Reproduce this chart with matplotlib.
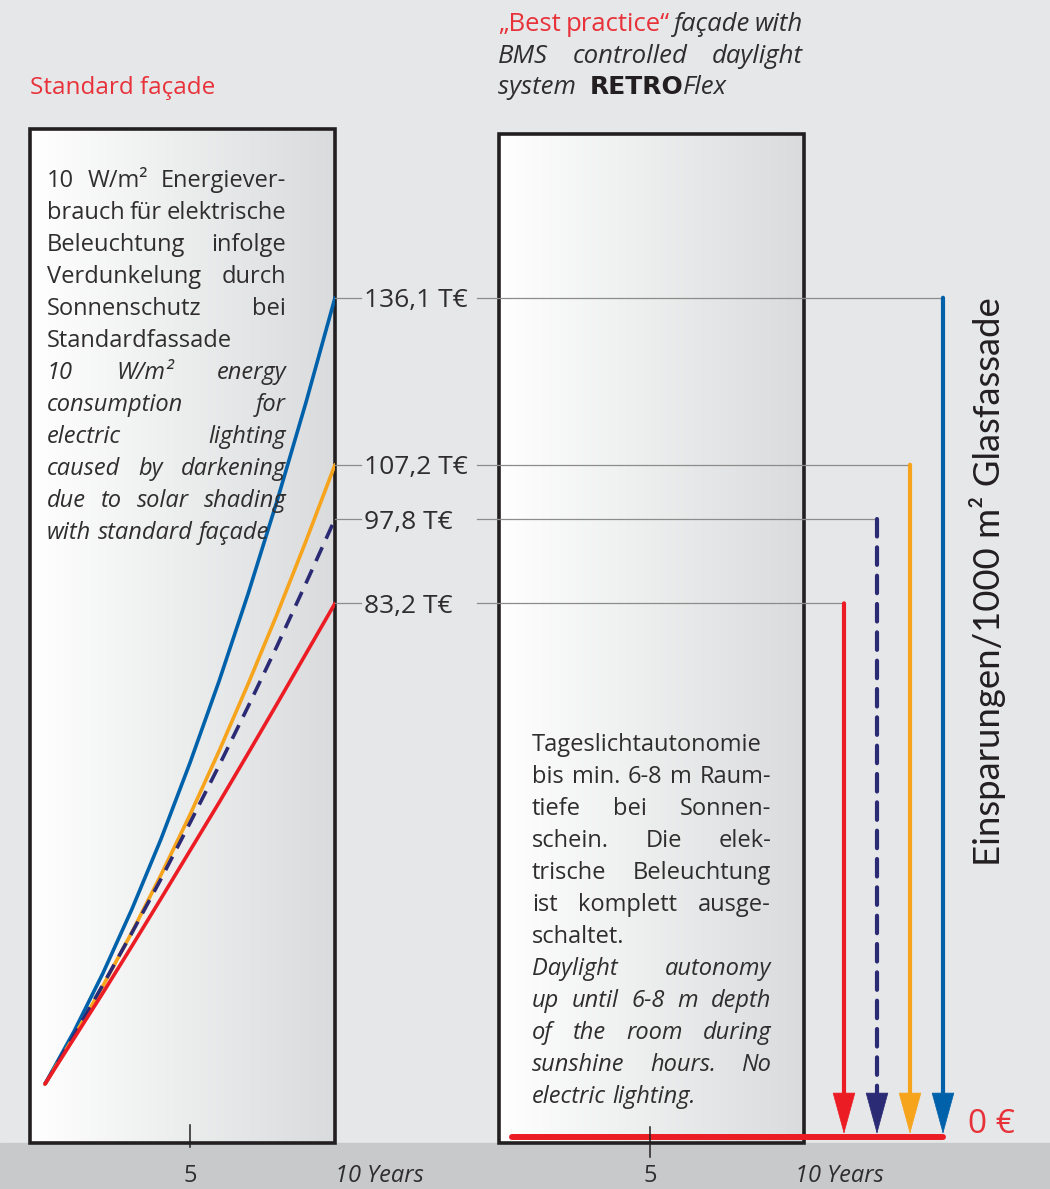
import numpy as np
import matplotlib
matplotlib.use("Agg")
import matplotlib.pyplot as plt
import matplotlib.transforms as mtransforms
from matplotlib.patches import Rectangle
from matplotlib.colors import LinearSegmentedColormap

plt.rcParams['font.family'] = ['Open Sans', 'DejaVu Sans']

# kumulierte Einsparung in T€ über 10 Jahre
YEARS = [0, 1, 2, 3, 4, 5, 6, 7, 8, 9, 10]
BLUE = [0, 9.1, 19.2, 30.3, 42.4, 55.6, 69.7, 84.8, 100.9, 118.0, 136.1]
ORANGE = [0, 8.2, 17.0, 26.3, 36.2, 46.6, 57.6, 69.2, 81.3, 94.0, 107.2]
NAVY = [0, 8.4, 17.2, 26.2, 35.5, 45.2, 55.1, 65.3, 75.8, 86.7, 97.8]
RED = [0, 7.9, 15.8, 23.9, 32.1, 40.4, 48.7, 57.2, 65.8, 74.5, 83.2]
XTICKS = [5, 10]
XTICK_LABELS = ['5', '10 Years']

SERIES = [BLUE, ORANGE, NAVY, RED]
COLORS = ['#0061ab', '#f7a41d', '#2b2a74', '#ec1c24']
DASHES = ['-', '-', (0, (4.2, 2.6)), '-']

TXT = '#2f2d2e'
ROT = '#e8323a'
LEAD = 32

DE_LEFT = ["10 W/m² Energiever-", "brauch für elektrische", "Beleuchtung infolge",
           "Verdunkelung durch", "Sonnenschutz bei", "Standardfassade"]
EN_LEFT = ["10 W/m² energy", "consumption for", "electric lighting",
           "caused by darkening", "due to solar shading", "with standard façade"]
DE_RIGHT = ["Tageslichtautonomie", "bis min. 6-8 m Raum-", "tiefe bei Sonnen-",
            "schein. Die elek-", "trische Beleuchtung", "ist komplett ausge-", "schaltet."]
EN_RIGHT = ["Daylight autonomy", "up until 6-8 m depth", "of the room during",
            "sunshine hours. No", "electric lighting."]

W, H = 1050, 1189
fig = plt.figure(figsize=(W / 100, H / 100), dpi=100)


def pixel_axes(z):
    a = fig.add_axes([0, 0, 1, 1])
    a.set_zorder(z)
    a.axis('off')
    a.patch.set_alpha(0)
    return a


bg = pixel_axes(0)
bg.add_patch(Rectangle((0, 0), W, H, color='#e6e7e9', zorder=0))
bg.add_patch(Rectangle((0, 1143), W, H - 1143, color='#c8c9cb', zorder=0))

grad = np.linspace(0, 1, 256).reshape(1, -1)
box_cmap = LinearSegmentedColormap.from_list('box', ['#ffffff', '#eceded', '#dadbdd'])


def panel(x0, x1, y0, y1):
    bg.imshow(grad, cmap=box_cmap, extent=(x0, x1, y1, y0), aspect='auto', zorder=1)
    bg.add_patch(Rectangle((x0, y0), x1 - x0, y1 - y0, fill=False,
                           ec='#231f20', lw=2.6, zorder=3))


panel(30, 335, 129, 1143)
panel(499, 804, 134, 1143)
bg.set_xlim(0, W)
bg.set_ylim(H, 0)


def data_axes(x0, x1, y0, y1, year0_px, px_per_year):
    a = fig.add_axes([x0 / W, 1 - y1 / H, (x1 - x0) / W, (y1 - y0) / H])
    a.set_zorder(1)
    a.axis('off')
    a.patch.set_alpha(0)
    a.set_xlim((x0 - year0_px) / px_per_year, (x1 - year0_px) / px_per_year)
    return a


# left panel: years on x, T€ on y
ax = data_axes(30, 335, 129, 1143, 45, 29)
zero_px, px_per_teur = 1084, 5.777
ax.set_ylim((zero_px - 1143) / px_per_teur, (zero_px - 129) / px_per_teur)
# right panel only carries the year scale
axr = data_axes(499, 804, 134, 1143, 505, 29)

for vals, c, ls in zip(SERIES, COLORS, DASHES):
    ax.plot(YEARS, vals, color=c, lw=2.6, ls=ls, solid_capstyle='round',
            dash_capstyle='butt')

fg = pixel_axes(2)
fg.set_xlim(0, W)
fg.set_ylim(H, 0)
renderer = fig.canvas.get_renderer()


def width_of(s, props):
    t = fg.text(0, 0, s, **props)
    w = t.get_window_extent(renderer).width
    t.remove()
    return w


def words_line(y, x0, x1, parts, justify=True):
    arts, widths = [], []
    for word, props in parts:
        t = fg.text(x0, y, word, ha='left', va='baseline', **props)
        arts.append(t)
        widths.append(t.get_window_extent(renderer).width)
    if justify and len(arts) > 1:
        gap = (x1 - x0 - sum(widths)) / (len(arts) - 1)
    else:
        p = parts[0][1]
        gap = width_of('x x', p) - width_of('xx', p)
    x = x0
    for t, w in zip(arts, widths):
        t.set_x(x)
        x += w + gap
    return x


def paragraph(lines, x0, x1, y, props):
    for i, line in enumerate(lines):
        last = i == len(lines) - 1
        words_line(y + i * LEAD, x0, x1, [(w, props) for w in line.split()],
                   justify=not last)


body = dict(fontsize=17.0, color=TXT)
body_it = dict(fontsize=17.0, color=TXT, style='italic')
paragraph(DE_LEFT, 47, 286, 187, body)
paragraph(EN_LEFT, 47, 286, 187 + 6 * LEAD, body_it)
paragraph(DE_RIGHT, 532, 771, 751, body)
paragraph(EN_RIGHT, 532, 771, 751 + 7 * LEAD, body_it)

# headings
head = dict(fontsize=18.5, color=ROT)
head_it = dict(fontsize=18.5, color=TXT, style='italic')
fg.text(30, 94, 'Standard façade', ha='left', va='baseline', fontsize=17.5, color=ROT)
words_line(31, 498, 803, [('„Best', head), ('practice“', head),
                          ('façade', head_it), ('with', head_it)])
words_line(63, 498, 803, [(w, head_it) for w in ['BMS', 'controlled', 'daylight']])
x = 498
for s, p in [('system ', head_it),
             ('RETRO', dict(fontsize=18, color='#231f20', family='DejaVu Sans',
                            weight='bold')),
             ('Flex', head_it)]:
    t = fg.text(x, 94, s, ha='left', va='baseline', **p)
    x += t.get_window_extent(renderer).width
    if s.endswith(' '):
        x += width_of('x x', p) - width_of('xx', p)

# value leaders, labels and arrows down to the 0 € line
lead_tr = mtransforms.blended_transform_factory(fg.transData, ax.transData)
arrow_x = [943, 910, 877, 844]
for vals, c, ls, xa in zip(SERIES, COLORS, DASHES, arrow_x):
    v = vals[-1]
    fg.plot([335, 361], [v, v], color='#8c8c8c', lw=0.9, transform=lead_tr, zorder=2)
    fg.plot([477, xa], [v, v], color='#8c8c8c', lw=0.9, transform=lead_tr, zorder=2)
    fg.text(364, v, f"{v:.1f}".replace('.', ',') + ' T€', transform=lead_tr,
            ha='left', va='center_baseline', fontsize=19, color=TXT)
    fg.annotate('', xy=(xa, 1100), xycoords='data', xytext=(xa, v), textcoords=lead_tr,
                arrowprops=dict(arrowstyle='-', color=c, lw=3, ls=ls,
                                shrinkA=0, shrinkB=0))
    fg.annotate('', xy=(xa, 1134), xytext=(xa, 1093),
                arrowprops=dict(arrowstyle='-|>,head_length=2.85,head_width=0.78',
                                mutation_scale=10, color=c, lw=0.5,
                                shrinkA=0, shrinkB=0))

fg.plot([512, 943], [1137, 1137], color=COLORS[3], lw=4.3, solid_capstyle='round',
        zorder=1)
fg.text(968, 1133, '0 €', ha='left', va='baseline', fontsize=24, color=ROT)

fg.text(987, 582, 'Einsparungen/1000 m² Glasfassade', rotation=90, family='Lato',
        ha='center', va='center', fontsize=26.3, color='#231f20')

# year axes below both panels
for a, ytop, ybot in [(ax, 1125, 1147), (axr, 1127, 1157)]:
    tr = mtransforms.blended_transform_factory(a.transData, fg.transData)
    fg.plot([XTICKS[0], XTICKS[0]], [ytop, ybot], color='#231f20', lw=1.1, transform=tr)
    fg.text(XTICKS[0], 1182, XTICK_LABELS[0], transform=tr, ha='center',
            va='baseline', fontsize=17, color=TXT)
    fg.text(XTICKS[1], 1182, XTICK_LABELS[1], transform=tr, ha='left',
            va='baseline', fontsize=17, color=TXT, style='italic')

fig.savefig('out.png', dpi=100)
